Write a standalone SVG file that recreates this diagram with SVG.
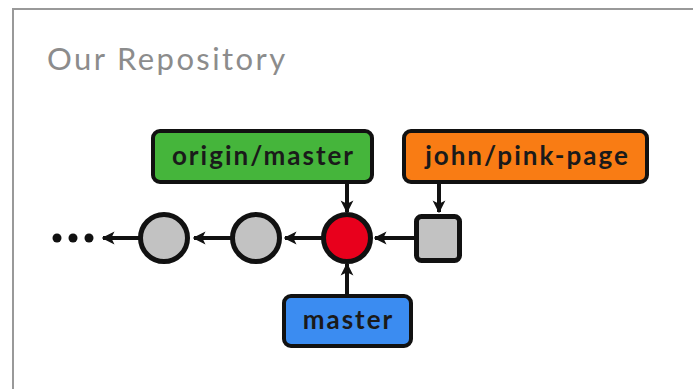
<svg xmlns="http://www.w3.org/2000/svg" width="693" height="389" viewBox="0 0 693 389">
<style>
.box{stroke:#111;stroke-width:4}
.lbl{font-family:Lato,"Noto Sans",sans-serif;font-weight:bold;fill:#1a1a1a;text-anchor:middle;font-size:26px;letter-spacing:2px}
.commit{stroke:#111;stroke-width:5}
.conn{stroke:#111;stroke-width:4;fill:none;marker-end:url(#ah)}
</style>
<defs>
<marker id="ah" viewBox="0 0 10 10" refX="9" refY="5" markerWidth="3.2" markerHeight="4" orient="auto" markerUnits="strokeWidth">
<path d="M0,0 L10,5 L0,10 L2.5,5 Z" fill="#111"/>
</marker>
</defs>
<rect width="693" height="389" fill="#fff"/>
<path d="M13,389 V9 H693" fill="none" stroke="#999" stroke-width="2"/>
<text x="47" y="70" font-family="Lato,'Noto Sans',sans-serif" font-size="31" fill="#8c8c8c" letter-spacing="2.4">Our Repository</text>

<g id="connectors">
<line class="conn" x1="140" y1="238" x2="103" y2="238"/>
<line class="conn" x1="231" y1="238" x2="194" y2="238"/>
<line class="conn" x1="322" y1="238" x2="285" y2="238"/>
<line class="conn" x1="414" y1="238" x2="375" y2="238"/>
<line class="conn" x1="347" y1="183" x2="347" y2="212"/>
<line class="conn" x1="439" y1="183" x2="439" y2="212"/>
<line class="conn" x1="347" y1="294" x2="347" y2="264"/>
</g>

<g id="ellipsis">
<circle cx="57" cy="238" r="4.5" fill="#111"/>
<circle cx="73" cy="238" r="4.5" fill="#111"/>
<circle cx="89" cy="238" r="4.5" fill="#111"/>
</g>
<g id="commit1"><circle class="commit" cx="164" cy="238" r="23.5" fill="#c2c2c2"/></g>
<g id="commit2"><circle class="commit" cx="256" cy="238" r="23.5" fill="#c2c2c2"/></g>
<g id="commit3"><circle class="commit" cx="347" cy="238" r="23.5" fill="#e8001c"/></g>
<g id="commit4"><rect class="commit" x="416.5" y="216.5" width="43" height="44" rx="5" fill="#c2c2c2"/></g>

<g id="origin-master">
<rect class="box" x="153" y="131" width="219" height="51" rx="7" fill="#45b53b"/>
<text class="lbl" x="263.5" y="165">origin/master</text>
</g>
<g id="john-pink-page">
<rect class="box" x="404" y="131" width="243" height="51" rx="7" fill="#f97c14"/>
<text class="lbl" x="527.5" y="165">john/pink-page</text>
</g>
<g id="master">
<rect class="box" x="284" y="296" width="127" height="50" rx="7" fill="#3b8cf1"/>
<text class="lbl" x="348.5" y="329">master</text>
</g>
</svg>
